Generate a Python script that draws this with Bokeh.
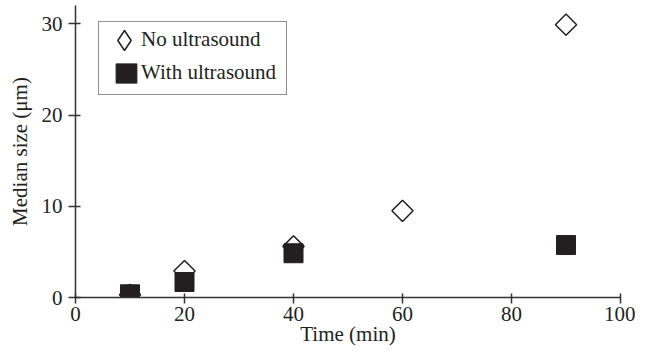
import math
from bokeh.plotting import figure
from bokeh.models import ColumnDataSource, Legend, LegendItem, Range1d, FixedTicker
from bokeh.embed import file_html
from bokeh.resources import INLINE

# ---- data ----
time_no_us = [10, 20, 40, 60, 90]
size_no_us = [0.3, 2.9, 5.6, 9.5, 29.9]
time_with_us = [10, 20, 40, 90]
size_with_us = [0.35, 1.7, 4.85, 5.75]
x_ticks = [0, 20, 40, 60, 80, 100]
y_ticks = [0, 10, 20, 30]
series_labels = ["No ultrasound", "With ultrasound"]

INK = "#231f20"
AXIS = "#333333"
FONT = "Liberation Serif"

src_no = ColumnDataSource(dict(x=time_no_us, y=size_no_us))
src_with = ColumnDataSource(dict(x=time_with_us, y=size_with_us))

p = figure(width=635, height=348, output_backend="svg", toolbar_location=None,
           x_range=Range1d(0, 100), y_range=Range1d(0, 32),
           min_border_left=75, min_border_right=15, min_border_top=5,
           min_border_bottom=0)
p.outline_line_color = None
p.xgrid.visible = False
p.ygrid.visible = False
p.background_fill_color = "white"
p.border_fill_color = "white"

r_no = p.scatter("x", "y", source=src_no, marker="square", angle=math.pi / 4, size=15,
                 fill_color="white", line_color=INK, line_width=1.5)
r_with = p.rect("x", "y", source=src_with, width=19, height=19,
                width_units="screen", height_units="screen",
                fill_color=INK, line_color=INK, line_width=1)
r_no_key = p.scatter("x", "y", source=src_no, marker="diamond", size=15,
                     fill_color="white", line_color=INK, line_width=1.5, visible=False)
r_blank = p.scatter("x", "y", source=src_no, marker="square", size=1,
                    fill_alpha=0, line_alpha=0, visible=False)

for ax in (p.xaxis[0], p.yaxis[0]):
    ax.axis_line_color = AXIS
    ax.axis_line_width = 1.5
    ax.major_tick_line_color = AXIS
    ax.major_tick_line_width = 1.5
    ax.minor_tick_line_color = None
    ax.major_label_text_font = FONT
    ax.major_label_text_font_size = "21px"
    ax.major_label_text_color = INK
    ax.axis_label_text_font = FONT
    ax.axis_label_text_font_size = "21px"
    ax.axis_label_text_font_style = "normal"
    ax.axis_label_text_color = INK

p.xaxis.ticker = FixedTicker(ticks=x_ticks)
p.yaxis.ticker = FixedTicker(ticks=y_ticks)
p.xaxis.axis_label = "Time (min)"
p.yaxis.axis_label = "Median size (μm)"
p.xaxis.major_tick_in = 4
p.xaxis.major_tick_out = 6
p.xaxis.major_label_standoff = 3
p.xaxis.axis_label_standoff = -2
p.yaxis.major_tick_in = 5
p.yaxis.major_tick_out = 7
p.yaxis.major_label_standoff = 6
p.yaxis.axis_label_standoff = 7

legend = Legend(items=[LegendItem(label=series_labels[0], renderers=[r_blank]),
                       LegendItem(label=series_labels[1], renderers=[r_with])],
                location=(23, 202))
legend.glyph_height = 24
legend.glyph_width = 26
legend.padding = (14, 10, 5, 9)
legend.spacing = 8
legend.label_standoff = 2
legend.label_height = 20
legend.label_text_font = FONT
legend.label_text_font_size = "21px"
legend.label_text_color = INK
legend.border_line_color = INK
legend.border_line_width = 1
legend.background_fill_color = "white"
legend.background_fill_alpha = 1
p.add_layout(legend)

legend2 = Legend(items=[LegendItem(label=" ", renderers=[r_no_key])],
                 location=(24, 232))
legend2.glyph_height = 50
legend2.glyph_width = 50
legend2.padding = 0
legend2.spacing = 0
legend2.label_standoff = 0
legend2.label_width = 0
legend2.label_text_font_size = "1px"
legend2.border_line_color = None
legend2.background_fill_alpha = 0
p.add_layout(legend2)

open("out.html", "w").write(file_html(p, INLINE))
